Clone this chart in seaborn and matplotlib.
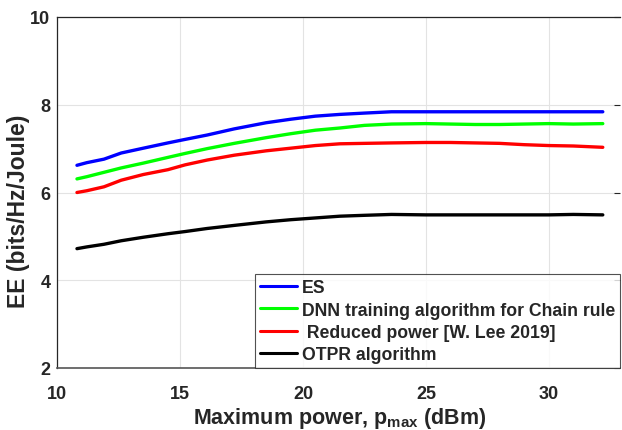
import numpy as np
import pandas as pd
import matplotlib
matplotlib.use("Agg")
import matplotlib.pyplot as plt
import seaborn as sns

# ---- data ----
x_power = [10.8, 11.2, 11.9, 12.6, 13.5, 14.5, 15.2, 16.1, 17.2, 18.5, 19.5, 20.5,
           21.5, 22.5, 23.6, 25, 26, 27, 28, 29, 30, 31, 32.2]
es = [6.62, 6.68, 6.76, 6.90, 7.01, 7.13, 7.21, 7.31, 7.45, 7.59, 7.67, 7.74,
      7.78, 7.81, 7.84, 7.84, 7.84, 7.84, 7.84, 7.84, 7.84, 7.84, 7.84]
dnn = [6.31, 6.36, 6.46, 6.56, 6.67, 6.80, 6.89, 7.00, 7.12, 7.25, 7.34, 7.42,
       7.47, 7.53, 7.56, 7.57, 7.56, 7.55, 7.55, 7.56, 7.57, 7.56, 7.57]
reduced = [6.00, 6.04, 6.13, 6.28, 6.41, 6.52, 6.63, 6.74, 6.85, 6.95, 7.01, 7.07,
           7.11, 7.12, 7.13, 7.14, 7.14, 7.13, 7.12, 7.09, 7.07, 7.06, 7.03]
otpr = [4.72, 4.76, 4.82, 4.90, 4.98, 5.06, 5.11, 5.18, 5.25, 5.33, 5.38, 5.42,
        5.46, 5.48, 5.50, 5.49, 5.49, 5.49, 5.49, 5.49, 5.49, 5.50, 5.49]
series_names = ["ES", "DNN training algorithm for Chain rule",
                " Reduced power [W. Lee 2019]", "OTPR algorithm"]
colors = ["#0000ff", "#00ff00", "#ff0000", "#000000"]
x_ticks = [10, 15, 20, 25, 30]
y_ticks = [2, 4, 6, 8, 10]

frames = []
for name, vals in zip(series_names, [es, dnn, reduced, otpr]):
    frames.append(pd.DataFrame({"x": x_power, "y": vals, "series": name}))
df = pd.concat(frames, ignore_index=True)

sns.set_style("white")
plt.rcParams['font.family'] = ['Liberation Sans', 'DejaVu Sans']
plt.rcParams['font.weight'] = 'bold'
plt.rcParams['mathtext.fontset'] = 'custom'
plt.rcParams['mathtext.bf'] = 'Liberation Sans:bold'
plt.rcParams['mathtext.rm'] = 'Liberation Sans:bold'

fig = plt.figure(figsize=(6.22, 4.31), dpi=100)
ax = fig.add_axes([57.3 / 622, 1 - 369 / 431, (620 - 57.3) / 622, (369 - 18) / 431])

sns.lineplot(data=df, x="x", y="y", hue="series", hue_order=series_names,
             palette=colors, linewidth=2.4, ax=ax, sort=False, estimator=None)

ax.set_xlim(10, 32.9)
ax.set_ylim(2, 10)
ax.set_xticks(x_ticks)
ax.set_yticks(y_ticks)
ax.grid(True, color="#e3e3e3", linewidth=0.8)
ax.set_axisbelow(True)
ax.tick_params(direction="in", length=4, width=0.8, labelsize=13,
               colors="#262626", top=False, right=True)
ax.tick_params(axis="x", pad=12)
ax.tick_params(axis="y", pad=5)
for lab in ax.get_xticklabels() + ax.get_yticklabels():
    lab.set_fontweight("bold")
for side in ["left", "top"]:
    ax.spines[side].set_color("#262626")
    ax.spines[side].set_linewidth(0.9)
ax.spines["bottom"].set_color("#555555")
ax.spines["bottom"].set_linewidth(1.2)
ax.spines["right"].set_visible(False)

ax.set_xlabel(r"Maximum power, p$_{\mathbf{max}}$ (dBm)", fontsize=15.5,
              fontweight="bold", color="#262626")
ax.xaxis.set_label_coords((340 - 57.3) / 562.7, -(406 - 369) / 351)
ax.set_ylabel("EE (bits/Hz/Joule)", fontsize=16.5, fontweight="bold",
              color="#262626")
ax.yaxis.set_label_coords(-(57.3 - 30) / 562.7, (369 - 211) / 351)

leg = ax.legend(loc="upper left", bbox_to_anchor=(0.351, 0, 0.649, 0.268),
                mode="expand", borderaxespad=0, fancybox=False, frameon=True,
                prop={"weight": "bold", "size": 12.7}, handlelength=2.1,
                handletextpad=0.25, labelspacing=0.3, borderpad=0.3)
leg.get_frame().set_edgecolor("#262626")
leg.get_frame().set_linewidth(0.8)
for line in leg.get_lines():
    line.set_linewidth(2.2)

fig.savefig("out.png", dpi=100)
